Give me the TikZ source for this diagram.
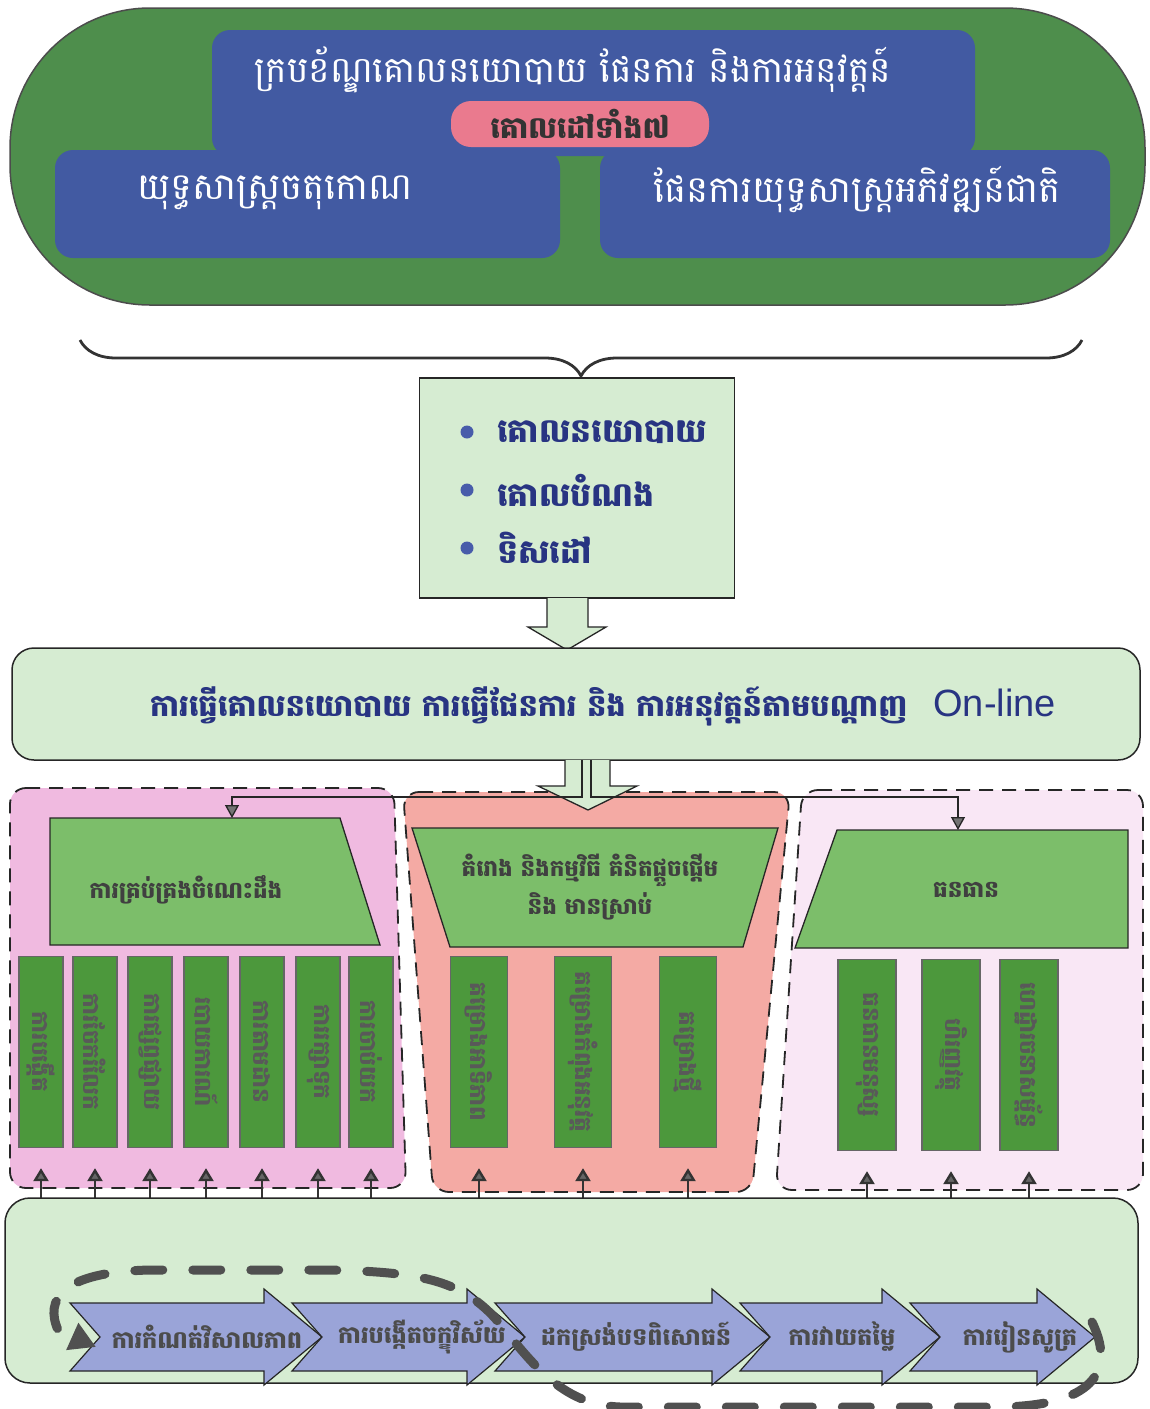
\documentclass[tikz,border=0pt]{standalone}
\usepackage{fontspec}
\setmainfont{Liberation Sans}
\newfontfamily\kh[Script=Khmer]{Battambang}
\usetikzlibrary{arrows.meta,decorations.pathreplacing}
\definecolor{capgreen}{RGB}{78,142,76}
\definecolor{topblue}{RGB}{66,90,162}
\definecolor{pillpink}{RGB}{234,122,142}
\definecolor{palegreen}{RGB}{214,236,210}
\definecolor{inkblue}{RGB}{40,52,130}
\definecolor{dotblue}{RGB}{72,92,170}
\definecolor{kmpink}{RGB}{240,186,224}
\definecolor{projsalmon}{RGB}{244,170,164}
\definecolor{respink}{RGB}{249,231,245}
\definecolor{headgreen}{RGB}{124,190,106}
\definecolor{bargreen}{RGB}{76,152,60}
\definecolor{stepblue}{RGB}{154,164,216}
\definecolor{loopgray}{RGB}{80,80,80}
\tikzset{
  region/.style={dash pattern=on 14pt off 9pt, line width=1.8pt, draw=black!85, rounded corners=16pt},
  headbox/.style={draw=black!85, fill=headgreen, line width=1.3pt},
  headtext/.style={text=black!75, align=center, font=\kh\bfseries\fontsize{23}{38}\selectfont},
  bar/.style={draw=black!60, fill=bargreen, line width=1.3pt, minimum height=191pt, inner sep=0pt},
  bartext/.style={rotate=-90, text=black!65, font=\kh\bfseries\fontsize{23}{26}\selectfont},
  uparrow/.style={draw=black!80, line width=2.4pt, -{Triangle[length=13pt,width=15pt,fill=black!60]}},
  feed/.style={draw=black!85, line width=1.3pt, -{Triangle[length=13pt,width=14pt,fill=black!55]}},
  chevron/.style={draw=black!85, fill=stepblue, line width=1.2pt},
  steptext/.style={text=black!70, font=\kh\bfseries\fontsize{24}{28}\selectfont}
}
\begin{document}
\begin{tikzpicture}[x=1pt,y=-1pt]
\useasboundingbox (0,0) rectangle (1150,1409);
\fill[white] (0,0) rectangle (1150,1409);

% framework
\draw[fill=capgreen, draw=black!70, line width=1.5pt, rounded corners=140pt] (10,8) rectangle (1145,305);
\fill[topblue, rounded corners=18pt] (212,30) rectangle (975,156);
\fill[topblue, rounded corners=18pt] (55,150) rectangle (560,258);
\fill[topblue, rounded corners=18pt] (600,150) rectangle (1110,258);
\node[text=white, font=\kh\fontsize{36}{42}\selectfont] (frame) at (573,70) {ក្របខ័ណ្ឌគោលនយោបាយ ផែនការ និងការអនុវត្តន៍};
\node[fill=pillpink, rounded corners=20pt, minimum width=258pt, minimum height=46pt, inner sep=0pt, text=black!80,
  font=\kh\bfseries\fontsize{30}{34}\selectfont] (goals) at (580,124) {គោលដៅទាំង៧};
\node[text=white, font=\kh\fontsize{37}{42}\selectfont] (rect) at (275,193) {យុទ្ធសាស្ត្រចតុកោណ};
\node[text=white, font=\kh\fontsize{37}{42}\selectfont] (nsdp) at (857,190) {ផែនការយុទ្ធសាស្ត្រអភិវឌ្ឍន៍ជាតិ};

\draw[decorate, decoration={brace, mirror, amplitude=36pt}, line width=2.8pt, black!80] (80,340) -- (1082,340);

% aims
\node[draw=black!85, fill=palegreen, line width=1.5pt, minimum width=315pt, minimum height=220pt] (aims) at (577,488) {};
\foreach \y/\t [count=\i] in {432/គោលនយោបាយ, 490/គោលបំណង, 548/ទិសដៅ} {
  \fill[dotblue] (467,\y) circle (6.5pt);
  \node[anchor=west, text=inkblue, font=\kh\bfseries\fontsize{33}{38}\selectfont] (aim\i) at (494,\y) {\t};
}
\draw[fill=palegreen, draw=black!85, line width=1.3pt] (547,598) -- (547,627) -- (528,627) -- (567,650) -- (606,627) -- (588,627) -- (588,598);

% online
\node[draw=black!85, fill=palegreen, line width=1.5pt, rounded corners=22pt, minimum width=1128pt, minimum height=112pt] (online) at (576,704) {};
\node[text=inkblue] (onlinet) at (603,706) {{\kh\bfseries\fontsize{30.5}{34}\selectfont ការធ្វើគោលនយោបាយ ការធ្វើផែនការ និង ការអនុវត្តន៍តាមបណ្តាញ}\hspace{26pt}{\fontsize{38}{42}\selectfont On-line}};

% three groups
\draw[region, fill=kmpink] (10,788) -- (394,788) -- (406,1188) -- (10,1188) -- cycle;
\draw[region, fill=projsalmon] (403,792) -- (790,792) -- (752,1192) -- (433,1192) -- cycle;
\draw[region, fill=respink] (802,790) -- (1143,790) -- (1143,1190) -- (776,1190) -- cycle;

\draw[fill=palegreen, draw=black!85, line width=1.3pt] (565,760) -- (565,786) -- (538,786) -- (588,810) -- (637,786) -- (610,786) -- (610,760);
\coordinate (kmtop) at (232,818);
\coordinate (restop) at (958,830);
\draw[feed] (582,760) |- (232,797) -- (kmtop);
\draw[feed] (591,760) |- (958,797) -- (restop);

\draw[headbox] (50,818) -- (340,818) -- (380,945) -- (50,945) -- cycle;
\node[headtext] (km) at (186,890) {ការគ្រប់គ្រងចំណេះដឹង};
\draw[headbox] (412,828) -- (778,828) -- (743,947) -- (450,947) -- cycle;
\node[headtext] (proj) at (590,887) {គំរោង និងកម្មវិធី គំនិតផ្តួចផ្តើម\\និង មានស្រាប់};
\draw[headbox] (837,830) -- (1128,830) -- (1128,948) -- (795,948) -- cycle;
\node[headtext] (res) at (966,890) {ធនធាន};

\foreach \x/\t [count=\i] in {41/ការបង្កើត, 95/ការចែករំលែក, 150/ការផ្សព្វផ្សាយ, 206/របាយការណ៍, 262/ការតាមដាន, 318/ការរក្សាទុក, 371/ការចាប់យក} {
  \node[bar, minimum width=44pt] (km\i) at (\x,1052) {};
  \node[bartext] (kmt\i) at (km\i) {\t};
  \coordinate (kmin\i) at (\x,1218);
  \draw[uparrow] (kmin\i) -- ([yshift=-20pt]km\i.south);
}
\foreach \x/\t [count=\i] in {479/គម្រោងអាទិភាព, 583/គម្រោងកំពុងអនុវត្ត, 688/គម្រោងថ្មី} {
  \node[bar, minimum width=57pt] (pj\i) at (\x,1052) {};
  \node[bartext] (pjt\i) at (pj\i) {\t};
  \coordinate (pjin\i) at (\x,1218);
  \draw[uparrow] (pjin\i) -- ([yshift=-20pt]pj\i.south);
}
\foreach \x/\t [count=\i] in {867/ធនធានមនុស្ស, 951/ហិរញ្ញវត្ថុ, 1029/ហេដ្ឋារចនាសម្ព័ន្ធ} {
  \node[bar, minimum width=58pt] (rs\i) at (\x,1055) {};
  \node[bartext] (rst\i) at (rs\i) {\t};
  \coordinate (rsin\i) at (\x,1218);
  \draw[uparrow] (rsin\i) -- ([yshift=-20pt]rs\i.south);
}

% process
\draw[fill=palegreen, draw=black!85, line width=1.5pt, rounded corners=25pt] (5,1198) rectangle (1138,1383);
\foreach \l/\t/\c/\s [count=\i] in {70/322/207/ការកំណត់វិសាលភាព, 292/525/422/ការបង្កើតចក្ខុវិស័យ, 495/770/636/ដកស្រង់បទពិសោធន៍, 740/940/842/ការវាយតម្លៃ, 910/1095/1020/ការរៀនសូត្រ} {
  \draw[chevron] (\l,1303) -- (\t-58,1303) -- (\t-58,1289) -- (\t,1337) -- (\t-58,1385) -- (\t-58,1371) -- (\l,1371) -- (\l+30,1337) -- cycle;
  \node[steptext] (step\i) at (\c,1337) {\s};
}

\draw[loopgray, line width=9pt, line cap=round, dash pattern=on 28pt off 30pt, -{Triangle[length=26pt,width=28pt]}]
  (1092,1322) .. controls (1120,1380) and (1080,1406) .. (1000,1407) -- (620,1407)
  .. controls (560,1405) and (530,1360) .. (495,1318)
  .. controls (460,1280) and (420,1272) .. (330,1270) -- (150,1270)
  .. controls (60,1272) and (45,1300) .. (58,1330) -- (96,1347);
\end{tikzpicture}
\end{document}
